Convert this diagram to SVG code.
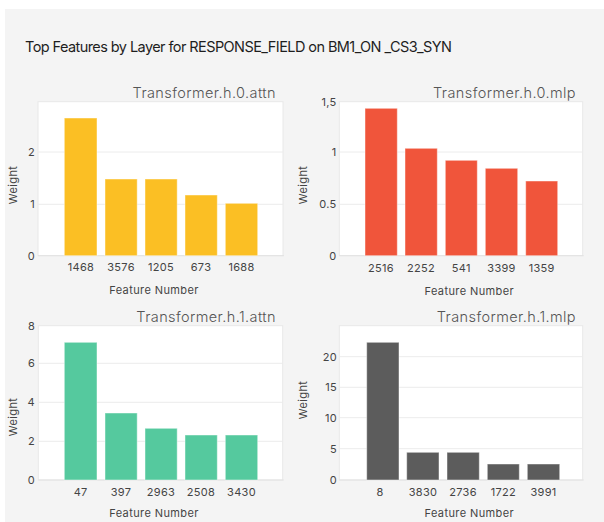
<svg xmlns="http://www.w3.org/2000/svg" width="604" height="522" viewBox="0 0 604 522">
<style>
text{font-family:Inter,"Liberation Sans","DejaVu Sans",sans-serif;}
.title{font-size:14.5px;fill:#1e1e1e;}
.ptitle{font-size:14.5px;fill:#555;text-anchor:end;letter-spacing:0.4px;font-weight:300;}
.tick{font-size:11px;fill:#444;letter-spacing:0.3px;}
.xt{text-anchor:middle;}
.yt{text-anchor:end;}
.lab{font-size:11px;fill:#444;text-anchor:middle;letter-spacing:0.4px;}
.plot{fill:#fff;stroke:#e8e8e8;stroke-width:1;}
.grid{stroke:#ececec;stroke-width:1;}
.axis{stroke:#e2e2e2;stroke-width:1;}
.bar{stroke:#fff;stroke-opacity:0.45;stroke-width:1;}
.y{fill:#FBBF24;}
.r{fill:#F0553B;}
.g{fill:#55C99E;}
.k{fill:#5C5C5C;}
</style>
<rect x="5" y="9" width="599" height="513" fill="#f4f4f4"/>
<text class="title" x="25" y="52" textLength="427" lengthAdjust="spacing">Top Features by Layer for RESPONSE_FIELD on BM1_ON _CS3_SYN</text>

<g id="panel-h0-attn">
<text class="ptitle" x="276" y="98">Transformer.h.0.attn</text>
<rect class="plot" x="38" y="101.7" width="245" height="154"/>
<line class="grid" x1="38" y1="152" x2="283" y2="152"/>
<line class="grid" x1="38" y1="204.3" x2="283" y2="204.3"/>
<line class="axis" x1="38" y1="255.7" x2="284" y2="255.7"/>
<rect class="bar y" x="64.3" y="118" width="32.7" height="137.7"/>
<rect class="bar y" x="105" y="179" width="32.2" height="76.7"/>
<rect class="bar y" x="145" y="179" width="32.2" height="76.7"/>
<rect class="bar y" x="185" y="195" width="32.3" height="60.7"/>
<rect class="bar y" x="225.3" y="203.3" width="32.4" height="52.4"/>
<text class="tick yt" x="35" y="156">2</text>
<text class="tick yt" x="35" y="208">1</text>
<text class="tick yt" x="35" y="259.5">0</text>
<text class="tick xt" x="81" y="271">1468</text>
<text class="tick xt" x="121" y="271">3576</text>
<text class="tick xt" x="161" y="271">1205</text>
<text class="tick xt" x="201" y="271">673</text>
<text class="tick xt" x="241.5" y="271">1688</text>
<text class="lab" x="154" y="294">Feature Number</text>
<text class="lab" transform="translate(17,185) rotate(-90)">Weight</text>
</g>

<g id="panel-h0-mlp">
<text class="ptitle" x="576" y="98">Transformer.h.0.mlp</text>
<rect class="plot" x="339.3" y="101.7" width="243.4" height="154"/>
<line class="grid" x1="339.3" y1="152" x2="582.7" y2="152"/>
<line class="grid" x1="339.3" y1="204.3" x2="582.7" y2="204.3"/>
<line class="axis" x1="339.3" y1="255.7" x2="583.7" y2="255.7"/>
<rect class="bar r" x="365" y="108.3" width="32.3" height="147.4"/>
<rect class="bar r" x="405" y="148.3" width="32.3" height="107.4"/>
<rect class="bar r" x="445.3" y="160.3" width="32" height="95.4"/>
<rect class="bar r" x="485.3" y="168.3" width="32.4" height="87.4"/>
<rect class="bar r" x="525.7" y="181" width="32" height="74.7"/>
<text class="tick yt" x="336.5" y="106">1,5</text>
<text class="tick yt" x="336.5" y="156">1</text>
<text class="tick yt" x="336.5" y="208">0.5</text>
<text class="tick yt" x="336.5" y="259.5">0</text>
<text class="tick xt" x="381" y="272">2516</text>
<text class="tick xt" x="421" y="272">2252</text>
<text class="tick xt" x="461.3" y="272">541</text>
<text class="tick xt" x="501.5" y="272">3399</text>
<text class="tick xt" x="541.7" y="272">1359</text>
<text class="lab" x="469.3" y="294.5">Feature Number</text>
<text class="lab" transform="translate(307,185) rotate(-90)">Weight</text>
</g>

<g id="panel-h1-attn">
<text class="ptitle" x="276" y="322">Transformer.h.1.attn</text>
<rect class="plot" x="38.3" y="325.7" width="244.4" height="154.3"/>
<line class="grid" x1="38.3" y1="363.3" x2="282.7" y2="363.3"/>
<line class="grid" x1="38.3" y1="402.3" x2="282.7" y2="402.3"/>
<line class="grid" x1="38.3" y1="441.3" x2="282.7" y2="441.3"/>
<line class="axis" x1="38.3" y1="480" x2="283.7" y2="480"/>
<rect class="bar g" x="64.3" y="342.3" width="32.7" height="137.7"/>
<rect class="bar g" x="105" y="413" width="32.2" height="67"/>
<rect class="bar g" x="145" y="428.3" width="32.2" height="51.7"/>
<rect class="bar g" x="185" y="435" width="32.3" height="45"/>
<rect class="bar g" x="225.3" y="435" width="32.4" height="45"/>
<text class="tick yt" x="35" y="330">8</text>
<text class="tick yt" x="35" y="367.3">6</text>
<text class="tick yt" x="35" y="406.3">4</text>
<text class="tick yt" x="35" y="445.3">2</text>
<text class="tick yt" x="35" y="484">0</text>
<text class="tick xt" x="80.7" y="495.5">47</text>
<text class="tick xt" x="121" y="495.5">397</text>
<text class="tick xt" x="161" y="495.5">2963</text>
<text class="tick xt" x="201" y="495.5">2508</text>
<text class="tick xt" x="241.5" y="495.5">3430</text>
<text class="lab" x="154" y="516.5">Feature Number</text>
<text class="lab" transform="translate(17,417) rotate(-90)">Weight</text>
</g>

<g id="panel-h1-mlp">
<text class="ptitle" x="576" y="322">Transformer.h.1.mlp</text>
<rect class="plot" x="339.3" y="325.7" width="243.4" height="154.3"/>
<line class="grid" x1="339.3" y1="356.7" x2="582.7" y2="356.7"/>
<line class="grid" x1="339.3" y1="387.3" x2="582.7" y2="387.3"/>
<line class="grid" x1="339.3" y1="417.7" x2="582.7" y2="417.7"/>
<line class="grid" x1="339.3" y1="448.7" x2="582.7" y2="448.7"/>
<line class="axis" x1="339.3" y1="480" x2="583.7" y2="480"/>
<rect class="bar k" x="366.7" y="342.3" width="32.3" height="137.7"/>
<rect class="bar k" x="406.7" y="452.3" width="32.3" height="27.7"/>
<rect class="bar k" x="447" y="452.3" width="32.3" height="27.7"/>
<rect class="bar k" x="487.3" y="464" width="32" height="16"/>
<rect class="bar k" x="527.3" y="464" width="32.4" height="16"/>
<text class="tick yt" x="337" y="360.7">20</text>
<text class="tick yt" x="337" y="391.3">15</text>
<text class="tick yt" x="337" y="421.7">10</text>
<text class="tick yt" x="337" y="452.7">5</text>
<text class="tick yt" x="337" y="484">0</text>
<text class="tick xt" x="380" y="495.5">8</text>
<text class="tick xt" x="423" y="495.5">3830</text>
<text class="tick xt" x="463" y="495.5">2736</text>
<text class="tick xt" x="503.3" y="495.5">1722</text>
<text class="tick xt" x="543.5" y="495.5">3991</text>
<text class="lab" x="469.3" y="516.5">Feature Number</text>
<text class="lab" transform="translate(307,400) rotate(-90)">Weight</text>
</g>
</svg>
